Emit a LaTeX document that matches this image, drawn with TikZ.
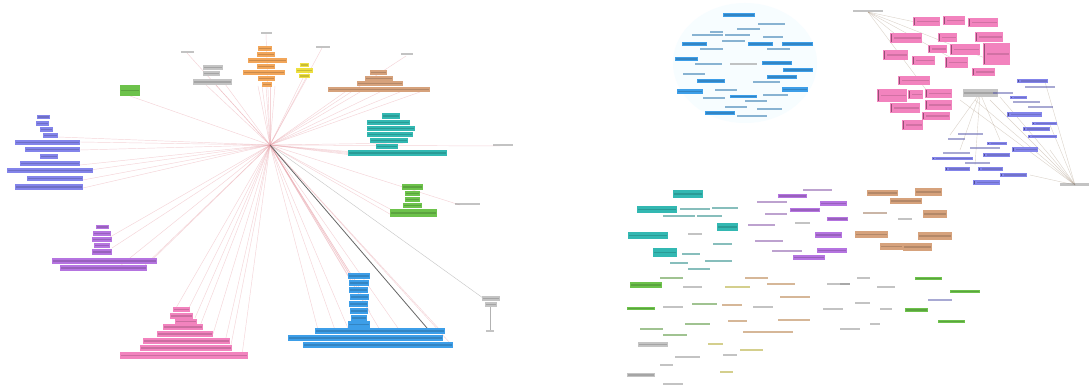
\documentclass[tikz,border=0pt]{standalone}
\usetikzlibrary{calc}
\definecolor{corange}{HTML}{F2A65A}
\definecolor{cyellow}{HTML}{EEE040}
\definecolor{cgray}{HTML}{C4C4C4}
\definecolor{cgreen}{HTML}{6DC24B}
\definecolor{cbrown}{HTML}{D6A27C}
\definecolor{cteal}{HTML}{33B8B2}
\definecolor{cperi}{HTML}{8384EA}
\definecolor{cpurple}{HTML}{B574E0}
\definecolor{cpink}{HTML}{F283BE}
\definecolor{cblue}{HTML}{3D9EE8}
\definecolor{cedge}{HTML}{E8A0A8}
% filled label box: x1 y1 x2 y2 colour
\newcommand\bx[5]{%
  \fill[#5] (#1,#2) rectangle (#3,#4);
  \fill[#5!55!black,opacity=.35] ({#1+1.2},{(#2+#4)/2-0.9}) rectangle ({#3-1.2},{(#2+#4)/2+0.9});}
% filled label box with a dark marker at its left end
\newcommand\mbx[5]{%
  \fill[#5] (#1,#2) rectangle (#3,#4);
  \fill[#5!45!black,opacity=.7] ({#1+0.6},{#2+1}) rectangle ({#1+2.2},{#4-1});
  \fill[#5!55!black,opacity=.3] ({#1+3.5},{(#2+#4)/2-0.9}) rectangle ({#3-1.2},{(#2+#4)/2+0.9});}
% bare text label
\newcommand\tx[5]{%
  \fill[#5!75!black,opacity=.55] (#1,{#2+0.5}) rectangle (#3,{#4-0.5});}
\tikzset{
  edge/.style={draw=cedge,line width=0.45pt,opacity=.45},
  grayedge/.style={draw=black!35,line width=0.45pt,opacity=.6},
  darkedge/.style={draw=black!60,line width=0.8pt},
  faintedge/.style={draw=brown!40!gray,line width=0.4pt,opacity=.35}
}
\begin{document}
\begin{tikzpicture}[x=1pt,y=-1pt]
\useasboundingbox (0,0) rectangle (1089,387);
\fill[white] (0,0) rectangle (1089,387);

% ---------------- radial graph: hub and its spokes ----------------
\coordinate (hub) at (270,145);
\foreach \x/\y [count=\i] in {
  258/86,262/86,266/86,270/86,275/86,
  303/78,307/78,
  205/84,215/84,225/84,
  130/96,
  345/92,360/92,380/92,400/92,420/92,
  352/155,362/155,375/155,390/155,405/143,
  395/217,405/217,
  80/142,80/150,58/137,80/165,90/170,83/180,83/188,
  110/237,112/248,150/262,140/270,120/266,
  176/308,188/310,195/318,200/326,213/334,225/342,230/350,242/355,
  350/275,356/282,362/292,366/302,370/312,318/330,335/330,350/333,380/330,400/331,440/330,450/343}
{
  \coordinate (e\i) at (\x,\y);
  \draw[edge] (hub) -- (e\i);
}
% spokes to the small grey labels
\coordinate (g1) at (266,34);
\coordinate (g2) at (322,48);
\coordinate (g3) at (187,53);
\coordinate (g4) at (406,56);
\coordinate (g5) at (500,146);
\coordinate (g6) at (460,205);
\coordinate (g7) at (483,298);
\foreach \g in {g1,g2,g3,g4,g5,g6}{\draw[edge] (hub) -- (\g);}
\draw[grayedge] (hub) -- (g7);
\coordinate (dk) at (427,328);
\draw[darkedge] (hub) -- (dk);

% grey labels around the hub
\tx{261}{32}{272}{35}{cgray}
\tx{316}{46}{330}{49}{cgray}
\tx{181}{51}{194}{54}{cgray}
\tx{401}{53}{413}{56}{cgray}
\tx{493}{144}{513}{147}{cgray}
\tx{455}{203}{480}{206}{cgray}
% grey node with its stem
\bx{482}{296}{500}{301}{cgray}
\bx{485}{302}{497}{307}{cgray}
\coordinate (st1) at (490,307);
\coordinate (st2) at (490,330);
\draw[black!30,line width=0.6pt] (st1) -- (st2);
\tx{486}{329}{494}{332}{cgray}

% orange cluster
\bx{258}{46}{272}{51}{corange}
\bx{257}{52}{275}{57}{corange}
\bx{248}{58}{287}{63}{corange}
\bx{257}{64}{275}{69}{corange}
\bx{243}{70}{285}{75}{corange}
\bx{258}{76}{275}{81}{corange}
\bx{262}{82}{272}{87}{corange}
% yellow cluster
\bx{300}{63}{309}{67}{cyellow}
\bx{296}{68}{313}{73}{cyellow}
\bx{299}{74}{310}{78}{cyellow}
% grey cluster
\bx{203}{65}{223}{70}{cgray}
\bx{203}{71}{220}{76}{cgray}
\bx{193}{79}{232}{85}{cgray}
% green single
\bx{120}{85}{140}{96}{cgreen}
% brown cluster
\bx{370}{70}{387}{75}{cbrown}
\bx{365}{76}{393}{81}{cbrown}
\bx{357}{81}{403}{86}{cbrown}
\bx{328}{87}{430}{92}{cbrown}
% teal cluster
\bx{382}{113}{400}{119}{cteal}
\bx{367}{120}{410}{125}{cteal}
\bx{367}{126}{415}{131}{cteal}
\bx{367}{132}{413}{137}{cteal}
\bx{370}{138}{408}{143}{cteal}
\bx{376}{144}{398}{149}{cteal}
\bx{348}{150}{447}{156}{cteal}
% green cluster
\bx{402}{184}{423}{190}{cgreen}
\bx{405}{191}{420}{196}{cgreen}
\bx{405}{197}{420}{202}{cgreen}
\bx{403}{203}{422}{208}{cgreen}
\bx{390}{209}{437}{217}{cgreen}
% periwinkle cluster
\bx{37}{115}{50}{119}{cperi}
\bx{36}{121}{49}{126}{cperi}
\bx{40}{127}{53}{132}{cperi}
\bx{43}{133}{58}{138}{cperi}
\bx{15}{140}{80}{145}{cperi}
\bx{25}{147}{80}{152}{cperi}
\bx{40}{154}{58}{159}{cperi}
\bx{20}{161}{80}{166}{cperi}
\bx{7}{168}{93}{173}{cperi}
\bx{27}{176}{83}{181}{cperi}
\bx{15}{184}{83}{190}{cperi}
% purple cluster
\bx{96}{225}{109}{229}{cpurple}
\bx{93}{231}{111}{236}{cpurple}
\bx{92}{237}{112}{242}{cpurple}
\bx{94}{243}{110}{248}{cpurple}
\bx{92}{249}{112}{255}{cpurple}
\bx{52}{258}{157}{264}{cpurple}
\bx{60}{265}{147}{271}{cpurple}
% pink cluster
\bx{173}{307}{190}{312}{cpink}
\bx{170}{313}{193}{319}{cpink}
\bx{175}{319}{197}{324}{cpink}
\bx{163}{324}{203}{330}{cpink}
\bx{157}{331}{213}{337}{cpink}
\bx{143}{338}{230}{344}{cpink}
\bx{140}{345}{232}{351}{cpink}
\bx{120}{352}{248}{359}{cpink}
% blue cluster
\bx{348}{273}{370}{279}{cblue}
\bx{349}{280}{369}{286}{cblue}
\bx{349}{287}{368}{293}{cblue}
\bx{350}{294}{369}{300}{cblue}
\bx{349}{301}{368}{307}{cblue}
\bx{350}{308}{368}{314}{cblue}
\bx{351}{315}{367}{321}{cblue}
\bx{348}{321}{370}{328}{cblue}
\bx{315}{328}{445}{334}{cblue}
\bx{288}{335}{443}{341}{cblue}
\bx{303}{342}{453}{348}{cblue}

% ---------------- right half: clustered layout ----------------
% blue cluster
\fill[cyan!3] (745,63) ellipse (72 and 60);
\bx{723}{13}{755}{17}{cblue}
\tx{758}{23}{785}{26}{cblue}
\tx{737}{28}{760}{31}{cblue}
\tx{710}{31}{723}{34}{cblue}
\tx{692}{34}{723}{37}{cblue}
\tx{725}{34}{750}{37}{cblue}
\tx{763}{36}{783}{39}{cblue}
\bx{682}{42}{707}{46}{cblue}
\tx{722}{40}{745}{43}{cblue}
\bx{748}{42}{773}{46}{cblue}
\bx{782}{42}{813}{46}{cblue}
\tx{700}{48}{723}{51}{cblue}
\tx{767}{48}{790}{51}{cblue}
\bx{675}{57}{698}{61}{cblue}
\tx{695}{63}{722}{66}{cblue}
\tx{730}{63}{757}{66}{cgray}
\bx{762}{61}{792}{65}{cblue}
\bx{783}{68}{813}{72}{cblue}
\tx{683}{73}{705}{76}{cblue}
\bx{767}{75}{797}{79}{cblue}
\bx{697}{79}{725}{83}{cblue}
\tx{753}{81}{780}{84}{cblue}
\bx{782}{87}{808}{92}{cblue}
\bx{677}{89}{703}{94}{cblue}
\tx{715}{89}{737}{92}{cblue}
\bx{730}{95}{757}{98}{cblue}
\tx{703}{97}{725}{100}{cblue}
\tx{763}{94}{788}{97}{cblue}
\tx{745}{100}{767}{103}{cblue}
\tx{725}{106}{747}{109}{cblue}
\tx{757}{108}{782}{111}{cblue}
\bx{705}{111}{735}{115}{cblue}
\tx{737}{115}{767}{118}{cblue}

% pink / periwinkle pair with their grey hubs
\coordinate (pc) at (980,93);
\coordinate (tl) at (868,12);
\coordinate (br) at (1075,185);
\foreach \x/\y [count=\i] in {900/38,915/22,930/95,955/60,990/60}{
  \coordinate (p\i) at (\x,\y);
  \draw[faintedge] (tl) -- (p\i);}
\foreach \x/\y [count=\i] in {960/100,975/100,990/100,1000/97,1045/82,1050/125,1050/150,1030/175}{
  \coordinate (q\i) at (\x,\y);
  \draw[faintedge] (br) -- (q\i);}
\foreach \x/\y [count=\i] in {950/135,960/150,975/165,1000/140}{
  \coordinate (r\i) at (\x,\y);
  \draw[faintedge] (pc) -- (r\i);}
\tx{853}{10}{883}{13}{cgray}
\tx{1060}{183}{1089}{187}{cgray}
\bx{963}{89}{998}{97}{cgray}
% pink boxes
\mbx{913}{17}{940}{26}{cpink}
\mbx{943}{16}{965}{25}{cpink}
\mbx{968}{18}{998}{27}{cpink}
\mbx{890}{33}{922}{43}{cpink}
\mbx{938}{33}{957}{42}{cpink}
\mbx{975}{32}{1003}{42}{cpink}
\mbx{883}{50}{908}{60}{cpink}
\mbx{928}{45}{947}{53}{cpink}
\mbx{950}{44}{980}{55}{cpink}
\mbx{983}{43}{1010}{65}{cpink}
\mbx{912}{56}{935}{65}{cpink}
\mbx{945}{57}{968}{68}{cpink}
\mbx{972}{68}{995}{76}{cpink}
\mbx{898}{76}{930}{85}{cpink}
\mbx{877}{89}{907}{102}{cpink}
\mbx{908}{90}{923}{99}{cpink}
\mbx{925}{89}{952}{98}{cpink}
\mbx{890}{103}{920}{113}{cpink}
\mbx{925}{100}{952}{110}{cpink}
\mbx{922}{112}{950}{120}{cpink}
\mbx{902}{120}{923}{130}{cpink}
% periwinkle labels
\mbx{1017}{79}{1048}{83}{cperi}
\tx{1025}{86}{1055}{89}{cperi}
\tx{993}{92}{1013}{95}{cperi}
\mbx{1010}{96}{1027}{99}{cperi}
\tx{1013}{101}{1040}{104}{cperi}
\tx{1028}{106}{1053}{109}{cperi}
\mbx{1007}{112}{1042}{117}{cperi}
\mbx{1032}{122}{1057}{125}{cperi}
\mbx{1023}{127}{1050}{131}{cperi}
\mbx{1028}{135}{1057}{138}{cperi}
\tx{958}{133}{983}{136}{cperi}
\tx{948}{138}{965}{141}{cperi}
\mbx{987}{142}{1007}{145}{cperi}
\tx{970}{147}{1000}{150}{cperi}
\mbx{1012}{147}{1038}{152}{cperi}
\tx{943}{152}{970}{155}{cperi}
\mbx{983}{153}{1010}{157}{cperi}
\mbx{932}{157}{973}{160}{cperi}
\tx{965}{162}{990}{165}{cperi}
\mbx{945}{167}{970}{171}{cperi}
\mbx{978}{167}{1003}{171}{cperi}
\mbx{1000}{173}{1027}{177}{cperi}
\mbx{973}{180}{1000}{185}{cperi}

% teal group
\bx{673}{190}{703}{198}{cteal}
\bx{637}{206}{677}{213}{cteal}
\tx{680}{208}{710}{211}{cteal}
\tx{712}{207}{738}{210}{cteal}
\tx{663}{215}{695}{218}{cteal}
\tx{697}{215}{722}{218}{cteal}
\bx{717}{223}{738}{231}{cteal}
\bx{628}{232}{668}{239}{cteal}
\tx{688}{233}{702}{236}{cgray}
\tx{713}{243}{732}{246}{cteal}
\bx{653}{248}{677}{257}{cteal}
\tx{682}{253}{700}{256}{cteal}
\tx{705}{260}{732}{263}{cteal}
\tx{670}{262}{688}{265}{cteal}
\tx{688}{268}{710}{271}{cteal}
% purple group
\tx{803}{189}{832}{192}{cpurple}
\bx{778}{194}{807}{198}{cpurple}
\tx{757}{201}{787}{204}{cpurple}
\bx{820}{201}{847}{206}{cpurple}
\bx{790}{208}{820}{212}{cpurple}
\tx{765}{213}{787}{216}{cpurple}
\bx{827}{217}{848}{221}{cpurple}
\tx{748}{224}{775}{227}{cpurple}
\tx{795}{222}{810}{225}{cgray}
\bx{815}{232}{842}{238}{cpurple}
\tx{755}{240}{783}{243}{cpurple}
\bx{817}{248}{847}{253}{cpurple}
\tx{772}{250}{802}{253}{cpurple}
\bx{793}{255}{825}{260}{cpurple}
% brown group
\bx{867}{190}{898}{196}{cbrown}
\bx{915}{188}{942}{196}{cbrown}
\bx{890}{198}{922}{204}{cbrown}
\tx{863}{212}{887}{215}{cbrown}
\bx{923}{210}{947}{218}{cbrown}
\tx{898}{218}{912}{221}{cgray}
\bx{855}{231}{888}{238}{cbrown}
\bx{918}{232}{952}{240}{cbrown}
\bx{880}{243}{903}{250}{cbrown}
\bx{903}{243}{932}{251}{cbrown}
% scattered green / orange / yellow / grey labels
\tx{660}{277}{683}{280}{cgreen}
\bx{630}{282}{662}{288}{cgreen}
\tx{683}{285}{702}{288}{cgray}
\tx{745}{277}{768}{280}{corange}
\tx{767}{282}{795}{285}{corange}
\tx{725}{285}{750}{288}{cyellow}
\tx{827}{282}{850}{285}{cgray}
\tx{780}{295}{810}{298}{corange}
\bx{627}{307}{655}{310}{cgreen}
\tx{663}{305}{683}{308}{cgray}
\tx{692}{302}{717}{305}{cgreen}
\tx{722}{303}{742}{306}{corange}
\tx{753}{305}{773}{308}{cgray}
\tx{823}{307}{843}{310}{cgray}
\tx{685}{322}{710}{325}{cgreen}
\tx{640}{327}{663}{330}{cgreen}
\tx{728}{319}{747}{322}{corange}
\tx{778}{318}{810}{321}{corange}
\tx{743}{330}{793}{333}{corange}
\tx{663}{333}{687}{336}{cgreen}
\bx{638}{342}{668}{347}{cgray}
\tx{708}{342}{723}{345}{cyellow}
\tx{740}{348}{763}{351}{cyellow}
\tx{723}{353}{737}{356}{cgray}
\tx{675}{355}{700}{358}{cgray}
\tx{660}{363}{673}{366}{cgray}
\bx{627}{373}{655}{377}{cgray}
\tx{720}{370}{733}{373}{cyellow}
\tx{663}{382}{683}{385}{cgray}
\tx{840}{327}{860}{330}{cgray}
\tx{857}{277}{870}{280}{cgray}
\bx{915}{277}{942}{280}{cgreen}
\tx{877}{285}{895}{288}{cgray}
\bx{950}{290}{980}{293}{cgreen}
\tx{928}{298}{952}{301}{cperi}
\tx{855}{301}{870}{304}{cgray}
\tx{880}{307}{892}{310}{cgray}
\bx{905}{308}{928}{312}{cgreen}
\bx{938}{320}{965}{323}{cgreen}
\tx{870}{322}{880}{325}{cgray}
\tx{840}{282}{850}{285}{cgray}
\end{tikzpicture}
\end{document}
